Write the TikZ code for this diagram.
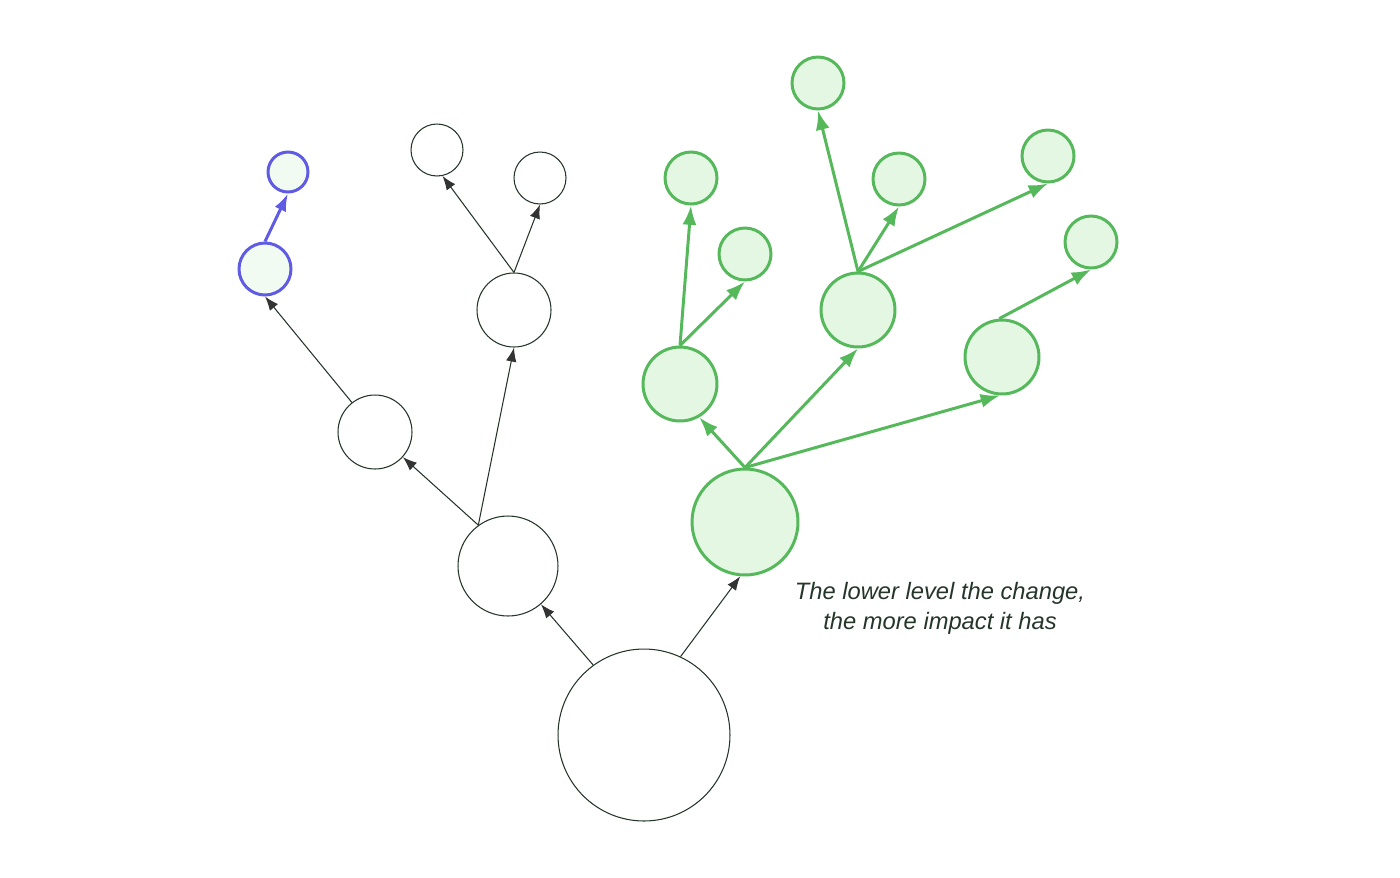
\documentclass[tikz,border=0pt]{standalone}
\usepackage{fontspec}
\setsansfont{Liberation Sans}
\usetikzlibrary{arrows.meta}
\definecolor{leaf}{HTML}{E3F7E3}
\definecolor{grass}{HTML}{55B85A}
\definecolor{violet}{HTML}{5F5BE3}
\definecolor{ink}{HTML}{24352A}
\begin{document}
\begin{tikzpicture}[x=0.02cm, y=-0.02cm,
  plain/.style={circle, draw=ink, line width=0.6pt, inner sep=0pt},
  changed/.style={circle, draw=grass, fill=leaf, line width=1.7pt, inner sep=0pt},
  moved/.style={circle, draw=violet, fill=leaf!50, line width=1.7pt, inner sep=0pt},
  thin edge/.style={draw=ink, line width=0.6pt, -{Latex[length=8pt, width=6pt, color=black!80]}},
  green edge/.style={draw=grass, line width=1.7pt, -{Latex[length=11pt, width=8pt]}},
  blue edge/.style={draw=violet, line width=1.7pt, -{Latex[length=10pt, width=7pt]}}]

\useasboundingbox (0,0) rectangle (1400,877);

\node[plain, minimum size=3.44cm] (root) at (644,735) {};
\node[plain, minimum size=2cm] (a) at (508,566) {};
\node[plain, minimum size=1.48cm] (b) at (375,432) {};
\node[plain, minimum size=1.48cm] (c) at (514,310) {};
\node[plain, minimum size=1.04cm] (d) at (437,150) {};
\node[plain, minimum size=1.04cm] (e) at (540,178) {};

\node[moved, minimum size=1.04cm] (f) at (265,269) {};
\node[moved, minimum size=0.8cm] (g) at (288,172) {};

\node[changed, minimum size=2.12cm] (h) at (745,522) {};
\node[changed, minimum size=1.48cm] (i) at (680,384) {};
\node[changed, minimum size=1.04cm] (j) at (691,178) {};
\node[changed, minimum size=1.04cm] (k) at (745,254) {};
\node[changed, minimum size=1.48cm] (l) at (858,310) {};
\node[changed, minimum size=1.04cm] (m) at (818,83) {};
\node[changed, minimum size=1.04cm] (n) at (899,179) {};
\node[changed, minimum size=1.04cm] (o) at (1048,156) {};
\node[changed, minimum size=1.48cm] (p) at (1002,357) {};
\node[changed, minimum size=1.04cm] (q) at (1091,242) {};

\draw[thin edge] (root.126) -- (a);
\draw[thin edge] (root.65) -- (h.-95);
\draw[thin edge] (a.126) -- (b);
\draw[thin edge] (a.126) -- (c.south);
\draw[thin edge] (b.128) -- (f.south);
\draw[thin edge] (c.north) -- (d.-78);
\draw[thin edge] (c.north) -- (e.south);

\draw[blue edge] (f.north) -- (g.south);

\draw[green edge] (h.north) -- (i.-60);
\draw[green edge] (h.north) -- (l.south);
\draw[green edge] (h.north) -- (p.-93);
\draw[green edge] (i.north) -- (j.south);
\draw[green edge] (i.north) -- (k.south);
\draw[green edge] (l.north) -- (m.south);
\draw[green edge] (l.north) -- (n.south);
\draw[green edge] (l.north) -- (o.south);
\draw[green edge] (p.94) -- (q.south);

\node[font=\sffamily\itshape\fontsize{13.5}{17}\selectfont, text=ink, align=center] (note) at (940,608)
  {The lower level the change,\\ the more impact it has};

\end{tikzpicture}
\end{document}
